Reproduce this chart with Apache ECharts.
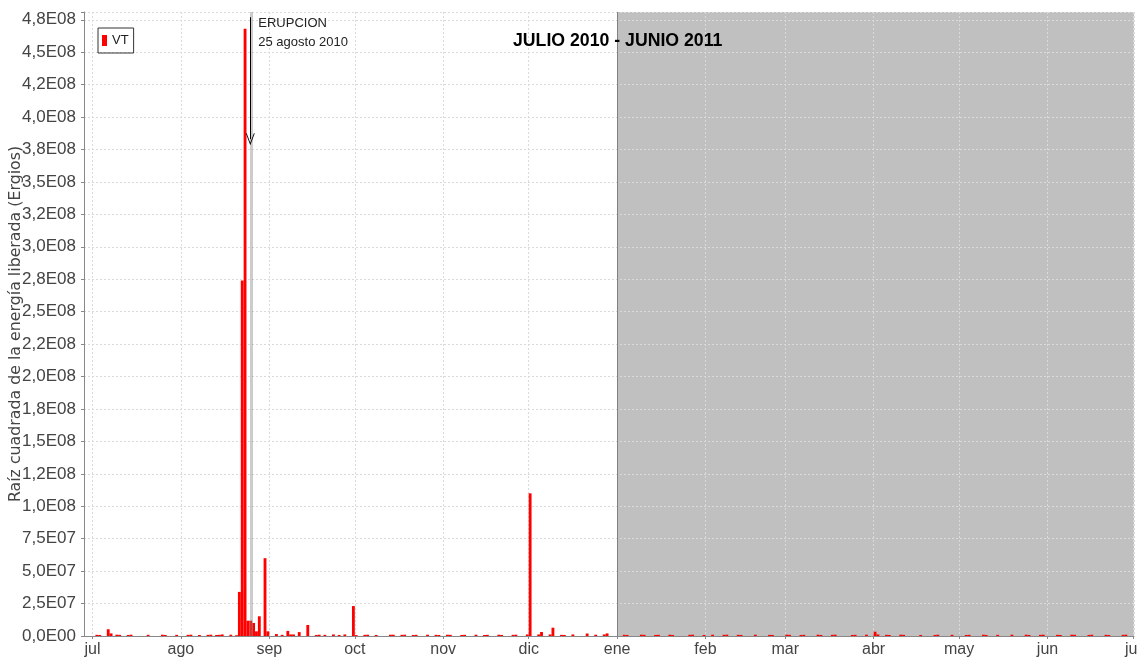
<!DOCTYPE html>
<html>
<head>
<meta charset="utf-8">
<script src="https://cdn.jsdelivr.net/npm/echarts@6.0.0/dist/echarts.min.js"></script>
<style>
  html, body { margin: 0; padding: 0; background: #fff; }
  #chart { width: 1137px; height: 664px; }
</style>
</head>
<body>
<div id="chart"></div>
<script>
// month tick labels (indexed by Date.getMonth())
const monthLabels = ['ene', 'feb', 'mar', 'abr', 'may', 'jun', 'jul', 'ago', 'sep', 'oct', 'nov', 'dic'];
// y tick labels, one per 2.5E07 step
const yTickLabels = ['0,0E00', '2,5E07', '5,0E07', '7,5E07', '1,0E08', '1,2E08', '1,5E08', '1,8E08', '2,0E08', '2,2E08',
    '2,5E08', '2,8E08', '3,0E08', '3,2E08', '3,5E08', '3,8E08', '4,0E08', '4,2E08', '4,5E08', '4,8E08'];

// daily energy (ergios^0.5) for the visible events
const eventDays = ['2010-07-06', '2010-07-07', '2010-08-15', '2010-08-20', '2010-08-21', '2010-08-22', '2010-08-23',
    '2010-08-24', '2010-08-25', '2010-08-26', '2010-08-27', '2010-08-28', '2010-08-30', '2010-08-31', '2010-09-03',
    '2010-09-07', '2010-09-08', '2010-09-09', '2010-09-11', '2010-09-14', '2010-09-23', '2010-09-27', '2010-09-30',
    '2010-10-01', '2010-10-13', '2010-10-14', '2010-11-30', '2010-12-01', '2010-12-04', '2010-12-05', '2010-12-08',
    '2010-12-09', '2010-12-16', '2010-12-21', '2010-12-27', '2010-12-28', '2011-02-03', '2011-04-01', '2011-04-02',
    '2011-04-17', '2011-05-19'];
const eventEnergy = [5.2e6, 2.0e6, 1.2e6, 6e5, 3.4e7, 2.74e8, 4.68e8,
    1.18e7, 1.18e7, 1.0e7, 3.6e6, 1.52e7, 6.0e7, 3.6e6, 1.5e6,
    3.9e6, 1.2e6, 1.2e6, 3.0e6, 8.5e6, 1.2e6, 1.2e6, 2.31e7,
    7e5, 1.0e6, 1.0e6, 1.2e6, 1.10e8, 1.2e6, 3.1e6, 1.2e6,
    6.4e6, 1.2e6, 1.9e6, 1.2e6, 2.0e6, 1.0e6, 3.3e6, 1.2e6,
    8e5, 1.0e6];

// tiny days that only show as red specks on the baseline
const minorDays = ['2010-07-02', '2010-07-03', '2010-07-09', '2010-07-10', '2010-07-13', '2010-07-14', '2010-07-20',
    '2010-07-25', '2010-07-26', '2010-07-30', '2010-08-03', '2010-08-04', '2010-08-07', '2010-08-10', '2010-08-11',
    '2010-08-13', '2010-08-14', '2010-08-18', '2010-09-05', '2010-09-17', '2010-09-18', '2010-09-20', '2010-09-25',
    '2010-10-04', '2010-10-05', '2010-10-08', '2010-10-17', '2010-10-18', '2010-10-21', '2010-10-22', '2010-10-26',
    '2010-10-29', '2010-10-30', '2010-11-02', '2010-11-03', '2010-11-07', '2010-11-08', '2010-11-12', '2010-11-15',
    '2010-11-16', '2010-11-20', '2010-11-21', '2010-11-25', '2010-11-26', '2010-12-12', '2010-12-13', '2010-12-24',
    '2011-01-03', '2011-01-04', '2011-01-09', '2011-01-10', '2011-01-14', '2011-01-15', '2011-01-19', '2011-01-20',
    '2011-01-26', '2011-01-27', '2011-01-31', '2011-02-07', '2011-02-08', '2011-02-12', '2011-02-13', '2011-02-18',
    '2011-02-23', '2011-02-24', '2011-03-01', '2011-03-02', '2011-03-06', '2011-03-07', '2011-03-12', '2011-03-13',
    '2011-03-17', '2011-03-18', '2011-03-24', '2011-03-25', '2011-03-29', '2011-04-05', '2011-04-06', '2011-04-10',
    '2011-04-11', '2011-04-22', '2011-04-23', '2011-04-28', '2011-05-03', '2011-05-04', '2011-05-09', '2011-05-10',
    '2011-05-14', '2011-05-24', '2011-05-25', '2011-05-29', '2011-05-30', '2011-06-04', '2011-06-05', '2011-06-09',
    '2011-06-10', '2011-06-15', '2011-06-16', '2011-06-21', '2011-06-22', '2011-06-27', '2011-06-28'];
const minorEnergy = [9e5, 8e5, 1.0e6, 9e5, 8e5, 1.0e6, 9e5,
    1.0e6, 8e5, 9e5, 9e5, 1.0e6, 8e5, 9e5, 1.0e6,
    8e5, 9e5, 1.0e6, 9e5, 8e5, 1.0e6, 9e5, 8e5,
    9e5, 1.0e6, 8e5, 9e5, 1.0e6, 8e5, 9e5, 1.0e6,
    9e5, 8e5, 1.0e6, 9e5, 8e5, 9e5, 1.0e6, 8e5,
    9e5, 1.0e6, 8e5, 9e5, 1.0e6, 9e5, 8e5, 1.0e6,
    9e5, 8e5, 1.0e6, 9e5, 8e5, 9e5, 1.0e6, 8e5,
    9e5, 1.0e6, 8e5, 9e5, 1.0e6, 9e5, 8e5, 1.0e6,
    9e5, 8e5, 1.0e6, 9e5, 8e5, 9e5, 1.0e6, 8e5,
    9e5, 1.0e6, 8e5, 9e5, 1.0e6, 9e5, 8e5, 1.0e6,
    9e5, 8e5, 1.0e6, 9e5, 8e5, 9e5, 1.0e6, 8e5,
    9e5, 1.0e6, 8e5, 9e5, 1.0e6, 9e5, 8e5, 1.0e6,
    9e5, 8e5, 1.0e6, 9e5, 8e5, 9e5, 1.0e6];

const eruptionDay = '2010-08-25';
const greyFrom = '2011-01-01';
const xStart = '2010-06-28T00:00:00';
const xEnd = '2011-07-01T08:00:00';

const noon = d => +new Date(d + 'T12:00:00');
const midnight = d => +new Date(d + 'T00:00:00');
const font = '"Liberation Sans", Arial, sans-serif';

let barData = eventDays.map((d, i) => [noon(d), eventEnergy[i]])
    .concat(minorDays.map((d, i) => [noon(d), minorEnergy[i]]));
barData.sort((a, b) => a[0] - b[0]);

let chart = echarts.init(document.getElementById('chart'));
chart.setOption({
    animation: false,
    backgroundColor: '#fff',
    title: {
        text: 'JULIO 2010 - JUNIO 2011',
        left: 513,
        top: 32,
        padding: 0,
        textStyle: {
            fontFamily: font,
            fontWeight: 'bold',
            fontSize: 17.7,
            color: '#000'
        }
    },
    legend: {
        data: ['VT'],
        left: 98,
        top: 28,
        padding: [6, 5, 6, 4],
        itemWidth: 5,
        itemHeight: 11,
        icon: 'rect',
        borderColor: '#333',
        borderWidth: 1,
        borderRadius: 0,
        textStyle: {fontFamily: font, fontSize: 13, color: '#222'}
    },
    grid: {
        left: 84,
        right: 3,
        top: 12,
        bottom: 28,
        containLabel: false,
        outerBoundsMode: 'none'
    },
    xAxis: [
        {
            // visible month axis
            type: 'time',
            min: +new Date(xStart),
            max: +new Date(xEnd),
            splitNumber: 12,
            minInterval: 28 * 86400000,
            maxInterval: 31 * 86400000,
            axisLine: {lineStyle: {color: '#888'}},
            axisTick: {show: true, length: 3, lineStyle: {color: '#888'}},
            axisLabel: {
                fontFamily: font,
                fontSize: 16,
                color: '#444',
                margin: 6,
                formatter: v => monthLabels[new Date(v).getMonth()]
            },
            splitLine: {show: true, lineStyle: {color: '#dadada', type: [2, 2]}}
        },
        {
            // hidden linear axis carrying the daily bars
            type: 'value',
            show: false,
            min: +new Date(xStart),
            max: +new Date(xEnd),
            splitLine: {show: false}
        }
    ],
    yAxis: {
        type: 'value',
        min: 0,
        max: 4.81e8,
        interval: 2.5e7,
        name: 'Raíz cuadrada de la energía liberada (Ergios)',
        nameLocation: 'middle',
        nameGap: 60,
        nameMoveOverlap: false,
        nameTextStyle: {fontFamily: '"DejaVu Sans", ' + font, fontSize: 15.8, color: '#444'},
        axisLine: {show: true, lineStyle: {color: '#888'}},
        axisTick: {show: true, length: 3, lineStyle: {color: '#888'}},
        axisLabel: {
            fontFamily: font,
            fontSize: 17,
            color: '#444',
            margin: 8,
            formatter: v => {
                let i = Math.round(v / 2.5e7);
                return Math.abs(v - i * 2.5e7) < 1 ? (yTickLabels[i] || '') : '';
            }
        },
        splitLine: {show: true, lineStyle: {color: '#dadada', type: [2, 2]}}
    },
    series: [
        {
            name: 'VT',
            type: 'bar',
            xAxisIndex: 1,
            data: barData,
            barWidth: 2.85,
            itemStyle: {color: '#ff0000'},
            markArea: {
                z: -1,
                silent: true,
                itemStyle: {color: '#c0c0c0'},
                data: [[{xAxis: midnight(greyFrom)}, {xAxis: +new Date(xEnd)}]]
            },
            markLine: {
                silent: true,
                symbol: 'none',
                label: {show: false},
                data: [
                    {xAxis: noon(eruptionDay), lineStyle: {color: 'rgba(128,128,128,0.4)', width: 3, type: 'solid'}},
                    {xAxis: midnight(greyFrom), lineStyle: {color: '#808080', width: 1, type: 'solid'}},
                    [
                        {coord: [noon(eruptionDay) - 4 * 3600000, 4.77e8], symbol: 'none',
                            lineStyle: {color: '#000', width: 1, type: 'solid'}},
                        {coord: [noon(eruptionDay) - 4 * 3600000, 3.83e8],
                            symbol: 'path://M5,0 L10,12 L9,12 L5,2.5 L1,12 L0,12 Z', symbolSize: [9, 12]}
                    ]
                ]
            },
            markPoint: {
                silent: true,
                symbol: 'rect',
                symbolSize: 1,
                itemStyle: {color: 'rgba(0,0,0,0)'},
                label: {
                    show: true,
                    position: [8, 1],
                    formatter: 'ERUPCION\n25 agosto 2010',
                    fontFamily: font,
                    fontSize: 13,
                    lineHeight: 19,
                    color: '#222'
                },
                data: [{coord: [noon(eruptionDay), 4.8e8]}]
            }
        }
    ]
});
</script>
</body>
</html>
